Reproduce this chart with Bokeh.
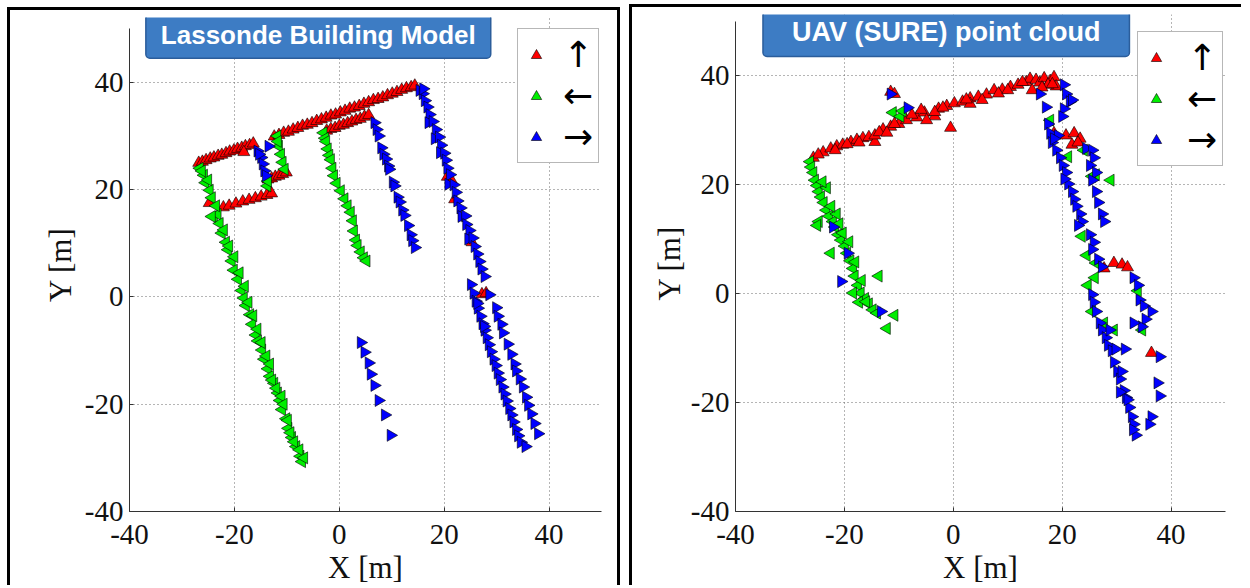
import numpy as np
from bokeh.plotting import figure
from bokeh.models import Range1d, FixedTicker, Label
from bokeh.layouts import row
from bokeh.embed import file_html
from bokeh.resources import INLINE

# ---------------- data ----------------
TICKS = [-40, -20, 0, 20, 40]
TICK_LABELS = ["-40", "-20", "0", "20", "40"]
AXIS_RANGE = (-40, 50)
TITLES = ["Lassonde Building Model", "UAV (SURE) point cloud"]
LEGEND_LABELS = ["↑", "←", "→"]
X_LABEL = "X [m]"
Y_LABEL = "Y [m]"

# Left panel: Lassonde Building Model
lb_up = [(-26.8, 25.0), (-26.1, 25.2), (-25.4, 25.5), (-24.6, 25.8), (-23.9, 26.0), (-23.1, 26.3),
         (-22.4, 26.5), (-21.6, 26.8), (-20.9, 27.1), (-20.1, 27.3), (-19.4, 27.6), (-18.6, 27.8),
         (-17.9, 28.1), (-17.1, 28.3), (-16.4, 28.6), (-18.2, 27.0),
         (-13.6, 21.9), (-12.9, 22.1), (-12.2, 22.4), (-11.5, 22.6), (-10.8, 22.9), (-10.1, 23.2),
         (-24.8, 17.5), (-22.1, 16.7), (-21.0, 17.0), (-19.7, 17.4), (-18.4, 17.8), (-17.2, 18.1),
         (-16.0, 18.4), (-14.9, 18.7), (-13.8, 19.0), (-12.9, 19.3),
         (-12.4, 29.9), (-11.5, 30.2), (-10.6, 30.6), (-9.7, 30.8), (-8.8, 31.2), (-7.9, 31.5),
         (-7.0, 31.9), (-6.1, 32.1), (-5.2, 32.4), (-4.3, 32.8), (-3.4, 33.1), (-2.5, 33.4),
         (-1.6, 33.8), (-0.7, 34.0), (0.2, 34.4), (1.1, 34.7), (2.0, 35.1), (2.9, 35.3),
         (3.8, 35.6), (4.7, 36.0), (5.6, 36.3), (6.5, 36.7), (7.4, 36.9), (8.3, 37.2),
         (9.2, 37.6), (10.1, 37.9), (11.0, 38.2), (11.9, 38.6), (12.8, 38.9), (13.7, 39.1), (14.4, 39.4),
         (-2.4, 31.0), (-1.6, 31.3), (-0.8, 31.5), (0.0, 31.9), (0.8, 32.1), (1.6, 32.4),
         (2.4, 32.7), (3.2, 33.0), (4.0, 33.2), (4.8, 33.6), (5.6, 33.9),
         (20.6, 22.4), (21.5, 21.6), (22.0, 18.2), (25.3, 10.2), (27.2, 0.5), (28.0, 0.7)]

lb_left = [(-26.6, 24.0), (-25.8, 22.7), (-25.5, 21.3), (-24.7, 19.9), (-24.3, 18.5), (-23.9, 15.0),
           (-23.2, 15.4), (-22.8, 13.7), (-22.4, 11.9), (-21.6, 10.2), (-21.2, 8.8), (-20.5, 6.7),
           (-20.1, 5.0), (-19.3, 3.3), (-18.6, 1.2), (-18.2, -0.2), (-17.8, -1.6), (-17.0, -3.3),
           (-16.6, -5.1), (-15.9, -7.1), (-15.5, -8.2), (-14.7, -9.9), (-14.3, -11.6), (-13.6, -13.4),
           (-13.2, -14.8), (-12.4, -16.1), (-11.7, -17.9), (-11.3, -19.3), (-10.9, -21.0), (-10.1, -22.7),
           (-9.7, -24.5), (-9.0, -26.2), (-8.2, -27.9), (-7.4, -29.7), (-7.1, -30.7),
           (-25.0, 21.8), (-23.5, 17.0), (-22.0, 12.5), (-21.0, 9.5), (-20.0, 7.5), (-19.0, 4.5),
           (-18.0, 2.0), (-17.3, -1.0), (-16.4, -3.5), (-15.6, -6.0), (-14.8, -8.5), (-13.9, -11.0),
           (-13.2, -12.5), (-12.8, -15.5), (-12.0, -17.0), (-11.0, -18.5), (-10.6, -20.0), (-9.8, -23.0),
           (-9.3, -25.3), (-8.6, -27.0), (-7.6, -28.5), (-6.7, -30.0), (-24.3, 15.0), (-26.2, 23.5),
           (-11.8, 30.0), (-11.5, 28.1), (-11.1, 26.6), (-10.8, 25.1), (-10.4, 23.8), (-13.7, 20.7),
           (-13.6, 21.6), (-11.7, 29.0),
           (-3.0, 30.6), (-2.7, 29.6), (-2.5, 29.0), (-2.2, 27.6), (-1.9, 26.4), (-1.6, 25.6),
           (-1.3, 24.0), (-1.0, 22.6), (-0.5, 21.2), (0.3, 19.8), (1.0, 18.3), (1.6, 17.0),
           (2.2, 15.8), (2.6, 14.2), (2.8, 12.3), (3.2, 10.6), (3.5, 9.6), (4.1, 8.4), (4.7, 7.3), (5.2, 6.7)]

lb_right = [(-15.6, 27.2), (-14.9, 26.0), (-14.6, 24.8), (-14.3, 23.5), (-14.0, 22.6), (-13.5, 28.1),
            (-15.3, 26.6),
            (6.7, 32.5), (7.1, 31.2), (7.5, 30.0), (8.0, 27.8), (8.4, 26.6), (8.9, 25.7), (9.3, 24.4),
            (9.5, 23.8), (10.2, 21.4), (10.5, 20.7), (11.1, 18.6), (11.5, 17.7), (12.0, 16.2),
            (12.4, 15.2), (13.1, 13.3), (13.6, 11.6), (13.9, 10.5), (14.4, 9.2),
            (15.3, 38.5), (15.9, 37.9), (16.3, 36.6), (16.8, 35.4), (17.2, 34.0), (17.0, 32.5),
            (17.8, 32.7), (18.4, 31.2), (18.2, 29.5), (19.0, 29.8), (19.4, 28.3), (19.2, 26.9),
            (20.0, 26.8), (20.3, 25.5), (20.6, 24.0), (21.1, 22.8), (20.8, 21.0), (21.8, 20.9),
            (22.2, 19.5), (22.5, 17.9), (23.1, 16.6), (23.3, 15.0), (24.0, 15.1), (24.2, 13.5),
            (24.8, 12.4), (24.6, 10.8), (25.4, 11.0), (25.8, 9.4), (26.3, 8.0), (26.7, 6.6),
            (27.1, 5.2), (27.7, 3.8), (16.0, 38.8),
            (25.1, 2.3), (25.6, 0.7), (26.0, -0.8), (26.4, -2.1), (26.9, -3.6), (27.3, -5.0),
            (27.7, -6.2), (28.1, -7.6), (28.5, -8.9), (28.9, -10.2), (29.4, -11.6), (29.8, -12.8),
            (30.2, -14.2), (30.6, -15.4), (31.1, -16.8), (31.5, -18.1), (31.9, -19.4), (32.4, -20.8),
            (32.8, -22.0), (33.2, -23.3), (33.7, -24.7), (34.1, -25.9), (34.6, -27.1), (35.5, -27.9),
            (26.3, -1.2), (27.6, -5.5),
            (28.6, 0.4), (29.9, -2.0), (30.2, -3.6), (30.9, -5.1), (31.2, -6.7), (32.1, -8.8),
            (32.8, -10.7), (33.4, -12.5), (33.7, -13.8), (34.4, -15.3), (35.0, -16.8), (35.6, -18.7),
            (36.0, -20.2), (36.6, -21.8), (37.2, -23.6), (37.9, -25.5),
            (4.1, -8.5), (4.8, -10.3), (5.6, -12.3), (6.0, -14.4), (6.7, -16.5), (7.5, -19.3),
            (8.7, -22.0), (9.8, -25.8)]

# Right panel: UAV (SURE) point cloud
uav_up = [(-25.7, 24.9), (-23.9, 25.9), (-22.5, 26.6), (-21.4, 27.0), (-20.3, 27.3), (-18.8, 27.8),
          (-17.7, 28.2), (-16.6, 28.5), (-15.5, 28.7), (-14.4, 27.8), (-12.9, 30.1), (-11.5, 30.6),
          (-10.0, 31.1), (-8.6, 31.8), (-6.7, 32.3), (-5.3, 33.2), (-3.4, 32.5), (-2.7, 33.9),
          (-1.2, 34.4), (0.2, 34.9), (1.7, 35.2), (3.1, 35.8), (4.6, 36.1), (6.1, 36.5),
          (7.5, 37.3), (9.0, 37.4), (10.5, 37.9), (11.9, 38.3), (13.4, 38.8), (14.1, 39.4),
          (15.2, 39.2), (15.9, 38.7), (16.7, 39.5), (17.8, 39.0), (18.5, 39.7), (18.9, 38.0),
          (17.4, 38.3), (14.5, 37.3), (12.7, 38.8),
          (-21.7, 26.3), (-17.3, 27.7), (-14.4, 29.0), (-10.8, 31.1), (-4.9, 31.8), (-3.4, 33.3),
          (3.1, 34.8), (-24.8, 25.5), (-19.5, 27.4), (-13.6, 29.6), (-12.2, 29.5), (-7.6, 32.8),
          (-5.9, 33.7), (-1.9, 34.1), (2.4, 35.6), (5.3, 35.5), (8.3, 36.7), (10.0, 37.3),
          (16.3, 37.8), (18.2, 38.4),
          (-0.5, 30.4), (-11.5, 37.0), (-10.8, 36.6),
          (18.5, 29.4), (20.7, 29.0), (22.2, 29.4), (23.3, 28.4), (21.8, 27.3), (22.9, 27.7),
          (27.7, 4.6), (29.5, 5.6), (31.0, 5.3), (32.0, 4.8), (36.4, -10.9)]

uav_left = [(-26.3, 24.2), (-26.1, 23.2), (-25.7, 22.2), (-25.4, 20.8), (-25.0, 19.8), (-24.7, 18.7),
            (-24.3, 17.7), (-23.8, 16.7), (-23.3, 15.3), (-22.8, 14.2), (-22.1, 13.2), (-21.7, 12.2),
            (-21.1, 10.8), (-20.6, 9.8), (-19.9, 8.7), (-19.5, 7.4), (-18.9, 6.0), (-18.4, 4.6),
            (-18.1, 3.2), (-17.5, 1.5), (-17.0, 0.1), (-16.2, -0.9), (-15.5, -1.9), (-14.8, -3.0),
            (-14.0, -3.6),
            (-24.7, 13.2), (-25.0, 12.5), (-22.5, 7.4), (-13.7, 3.2), (-10.8, -4.0), (-12.2, -6.4),
            (-18.4, 0.1), (-17.3, -1.6), (-23.2, 19.4), (-21.4, 14.6), (-20.3, 11.1), (-24.0, 20.5),
            (-22.4, 16.0), (-20.9, 12.8), (-19.1, 9.5), (-18.0, 5.8), (-16.8, 2.4), (-16.0, -1.5),
            (-11.1, 33.2), (-9.7, 32.5), (-9.3, 33.5),
            (17.8, 31.8), (21.1, 25.1), (24.0, 26.3), (26.2, 21.8), (28.9, 20.8), (23.6, 10.5),
            (24.5, 7.0), (26.0, 2.9), (24.7, 1.5), (25.5, -3.3), (27.7, -5.4), (29.5, -6.7),
            (33.9, 0.5), (34.7, -6.7), (26.2, 5.6), (25.5, 21.5)]

uav_right = [(-11.5, 36.6), (-8.4, 34.1), (-20.6, 2.2), (-22.1, 12.2), (-19.4, 7.4), (-13.3, -3.3),
             (15.9, 36.6), (17.0, 34.2), (20.3, 38.3), (20.7, 36.6), (21.4, 35.2), (20.3, 33.9),
             (20.0, 32.5), (21.8, 35.5),
             (17.4, 31.1), (17.8, 29.4), (18.1, 27.7), (18.9, 26.3), (19.6, 24.9), (20.1, 23.5),
             (20.7, 22.2), (21.1, 20.1), (21.8, 18.7), (22.2, 17.3), (23.3, 14.6), (23.6, 13.2),
             (22.9, 12.5), (19.2, 29.0), (18.5, 28.4), (20.4, 21.0), (22.6, 16.0),
             (24.4, 26.6), (25.5, 26.3), (25.8, 24.9), (25.1, 23.5), (26.2, 22.2), (25.5, 20.8),
             (26.2, 18.7), (26.6, 16.7), (27.3, 14.6), (27.7, 13.2), (25.1, 10.8), (25.8, 9.4),
             (25.5, 8.1), (26.6, 6.3), (27.3, 4.9),
             (25.5, -0.2), (25.8, -1.6), (26.2, -3.3), (26.9, -5.4), (27.3, -6.7), (28.0, -8.1),
             (28.4, -9.5), (29.1, -10.5), (29.5, -12.6), (30.1, -14.3), (30.6, -15.7), (31.3, -17.8),
             (31.7, -19.1), (32.3, -20.9), (32.8, -22.6), (33.1, -24.0), (33.5, -26.0), (28.7, -6.7),
             (29.8, -10.2), (30.9, -14.3), (31.5, -10.2), (32.0, -19.5), (30.6, -18.1), (33.0, -25.0),
             (33.1, 2.9), (33.9, 1.5), (34.2, -1.2), (35.0, -2.3), (36.4, -3.3), (35.3, -4.7),
             (34.6, -6.1), (33.1, -5.4), (37.9, -11.6), (37.5, -16.4), (37.9, -18.8), (36.4, -22.6),
             (36.0, -24.0)]

# ---------------- styling ----------------
SERIES_COLORS = ["#ff0000", "#00ee00", "#0000ff"]
SERIES_ANGLES = [0.0, np.pi / 2, -np.pi / 2]
SERIF = "Liberation Serif"


def make_panel(title, series, width, height, borders, css, y_top, title_pos, title_font, title_pad,
               legend_loc, legend_std, ylab_standoff):
    p = figure(width=width, height=height, output_backend="svg", toolbar_location=None,
               x_range=Range1d(*AXIS_RANGE), y_range=Range1d(AXIS_RANGE[0], y_top),
               min_border_left=borders[0], min_border_right=borders[1],
               min_border_top=borders[2], min_border_bottom=borders[3])
    p.styles = css
    p.outline_line_color = None
    p.background_fill_color = "white"
    p.border_fill_color = "white"

    overrides = {t: s for t, s in zip(TICKS, TICK_LABELS)}
    for ax in (p.xaxis[0], p.yaxis[0]):
        ax.ticker = FixedTicker(ticks=TICKS)
        ax.major_label_overrides = overrides
        ax.major_label_text_font = SERIF
        ax.major_label_text_font_size = "29px"
        ax.major_label_text_color = "#111111"
        ax.axis_label_text_font = SERIF
        ax.axis_label_text_font_size = "31px"
        ax.axis_label_text_font_style = "normal"
        ax.axis_label_text_color = "#111111"
        ax.axis_line_color = "#333333"
        ax.major_tick_line_color = "#333333"
        ax.major_tick_in = 4
        ax.major_tick_out = 0
        ax.minor_tick_line_color = None
    p.yaxis.bounds = AXIS_RANGE
    p.xaxis.axis_label = X_LABEL
    p.yaxis.axis_label = Y_LABEL
    p.xaxis.major_label_standoff = 13
    p.xaxis.axis_label_standoff = 3
    p.yaxis.major_label_standoff = 6
    p.yaxis.axis_label_standoff = ylab_standoff

    for g in (p.xgrid, p.ygrid):
        g.ticker = FixedTicker(ticks=TICKS)
        g.grid_line_color = "#6a6a6a"
        g.grid_line_dash = "1 3"
        g.grid_line_width = 1

    for pts, col, ang, lab in zip(series, SERIES_COLORS, SERIES_ANGLES, LEGEND_LABELS):
        xs = [a for a, b in pts]
        ys = [b for a, b in pts]
        p.scatter(xs, ys, marker="triangle", size=12, angle=ang, fill_color=col,
                  line_color="black", line_width=0.6, legend_label=lab)

    lg = p.legend[0]
    lg.location = legend_loc
    lg.margin = 0
    lg.padding = 5
    lg.spacing = 0
    lg.glyph_width = 26
    lg.glyph_height = 40
    lg.label_height = 40
    lg.label_standoff = legend_std
    lg.label_text_font = "DejaVu Sans"
    lg.label_text_font_size = "36px"
    lg.label_text_color = "black"
    lg.border_line_color = "#707070"
    lg.border_line_width = 1.5
    lg.background_fill_color = "white"
    lg.background_fill_alpha = 1.0

    shadow = Label(x=title_pos[0], y=title_pos[1], text=title, text_align="center",
                   text_baseline="middle", text_font="Liberation Sans", text_font_size=title_font,
                   text_font_style="bold", text_alpha=0.0,
                   background_fill_color="#444444", background_fill_alpha=0.35,
                   padding=title_pad, border_radius=4, x_offset=2, y_offset=-3)
    lab = Label(x=title_pos[0], y=title_pos[1], text=title, text_align="center",
                text_baseline="middle", text_font="Liberation Sans", text_font_size=title_font,
                text_font_style="bold", text_color="white",
                background_fill_color="#3d7cc4", border_line_color="#2b5d9b", border_line_width=1.5,
                padding=title_pad, border_radius=4)
    p.add_layout(shadow)
    p.add_layout(lab)
    return p


p1 = make_panel(TITLES[0], [lb_up, lb_left, lb_right], 613, 578, (119, 22, 7, 72),
                {"border-left": "3px solid black", "border-top": "3px solid black",
                 "border-right": "3px solid black"},
                52.1, (-4.0, 48.9), "26px", dict(left=15, right=15, top=9, bottom=8),
                (388, 348), 14, 4)
p1.margin = (7, 0, 0, 7)

p2 = make_panel(TITLES[1], [uav_up, uav_left, uav_right], 612, 581, (103, 19, 7, 77),
                {"border-left": "3px solid black", "border-top": "3px solid black"},
                51.2, (-1.3, 47.9), "27px", dict(left=29, right=29, top=9, bottom=9),
                (402, 345), 18, 1)
p2.margin = (4, 0, 0, 9)

layout = row(p1, p2, spacing=0)
layout.styles = {"background-color": "white"}

with open("out.html", "w") as f:
    f.write(file_html(layout, INLINE))
